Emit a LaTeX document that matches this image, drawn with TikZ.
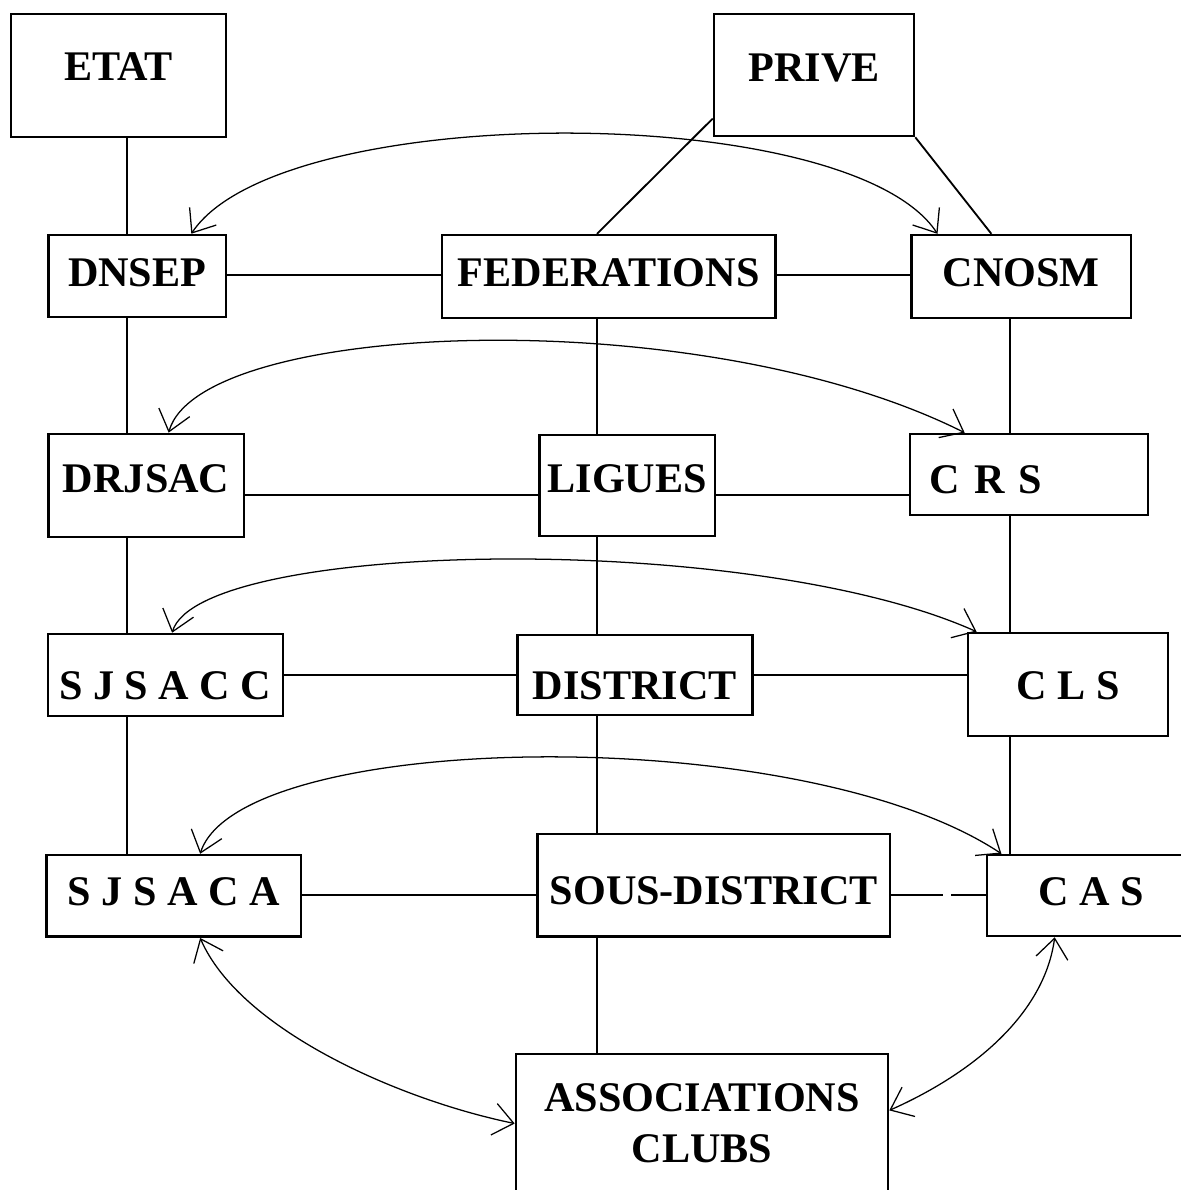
\documentclass[tikz,border=0pt]{standalone}
\usepackage{fontspec}
\setmainfont{Liberation Serif}
\usetikzlibrary{arrows.meta,calc}
\tikzset{
  box/.style={draw, line width=1.8pt, inner sep=0pt, font=\bfseries\fontsize{30}{36}\selectfont},
  wire/.style={line width=1.3pt},
  swing/.style={{Straight Barb[length=5mm,width=8mm]}-{Straight Barb[length=5mm,width=8mm]}, line width=0.9pt},
}
\begin{document}
\begin{tikzpicture}[x=0.025cm, y=-0.025cm]
  \useasboundingbox (0,0) rectangle (1181,1190);
  \node[box, minimum width=5.375cm, text height=1.65cm, text depth=1.425cm] (etat) at (118.5,75.5) {ETAT};
  \node[box, minimum width=5cm, text height=1.675cm, text depth=1.375cm] (prive) at (814,75) {PRIVE};
  \node[box, minimum width=4.43cm, text height=1.29cm, text depth=0.76cm] (dnsep) at (137.2,276) {DNSEP};
  \node[box, minimum width=8.34cm, text height=1.29cm, text depth=0.78cm] (federations) at (608.75,276.5) {FEDERATIONS};
  \node[box, minimum width=5.49cm, text height=1.29cm, text depth=0.78cm] (cnosm) at (1021.25,276.5) {CNOSM};
  \node[box, minimum width=4.88cm, text height=1.47cm, text depth=1.11cm] (drjsac) at (146.2,485.5) {DRJSAC};
  \node[box, minimum width=4.385cm, text height=1.44cm, text depth=1.08cm] (ligues) at (627.3,485.5) {LIGUES};
  \node[box, text width=4.95cm, inner xsep=0.5cm, align=left, text height=1.475cm, text depth=0.55cm] (crs) at (1029,474.5) {C R S};
  \node[box, minimum width=5.88cm, text height=1.63cm, text depth=0.42cm] (sjsacc) at (165.4,675) {S J S A C C};
  \node[box, minimum width=5.88cm, text height=1.61cm, text depth=0.39cm] (district) at (634.95,675) {DISTRICT};
  \node[box, minimum width=5cm, text height=1.65cm, text depth=0.925cm] (cls) at (1068,684.5) {C L S};
  \node[box, minimum width=6.36cm, text height=1.25cm, text depth=0.79cm] (sjsaca) at (173.85,895.85) {S J S A C A};
  \node[box, minimum width=8.81cm, text height=1.775cm, text depth=0.79cm] (sousdistrict) at (713.85,885.25) {SOUS-DISTRICT};
  \node[box, minimum width=5.2cm, text height=1.25cm, text depth=0.775cm] (cas) at (1091,895.5) {C A S};
  \node[box, minimum width=9.3cm, minimum height=3.475cm, align=center] (assoc) at (702,1123.5) {ASSOCIATIONS\\CLUBS};

  \coordinate (colA) at (127,0);
  \coordinate (colB) at (597,0);
  \coordinate (colC) at (1010,0);
  \coordinate (r1) at (0,275);
  \coordinate (r2) at (0,495);
  \coordinate (r3) at (0,675);
  \coordinate (r4) at (0,895);

  \begin{scope}[wire]
    \draw (etat.south -| colA) to (dnsep.north -| colA);
    \draw ($(prive.south west)!0.15!(prive.north west)$) to (federations.north -| colB);
    \draw (prive.south east) to (cnosm.125);
    \draw (dnsep.east |- r1) to (federations.west |- r1);
    \draw (federations.east |- r1) to (cnosm.west |- r1);
    \draw (dnsep.south -| colA) to (drjsac.north -| colA);
    \draw (federations.south -| colB) to (ligues.north -| colB);
    \draw (cnosm.south -| colC) to (crs.north -| colC);
    \draw (drjsac.east |- r2) to (ligues.west |- r2);
    \draw (ligues.east |- r2) to (crs.west |- r2);
    \draw (drjsac.south -| colA) to (sjsacc.north -| colA);
    \draw (ligues.south -| colB) to (district.north -| colB);
    \draw (crs.south -| colC) to (cls.north -| colC);
    \draw (sjsacc.east |- r3) to (district.west |- r3);
    \draw (district.east |- r3) to (cls.west |- r3);
    \draw (sjsacc.south -| colA) to (sjsaca.north -| colA);
    \draw (district.south -| colB) to (sousdistrict.north -| colB);
    \draw (cls.south -| colC) to (cas.north -| colC);
    \draw (sjsaca.east |- r4) to (sousdistrict.west |- r4);
    \draw[dash pattern=on 1.3cm off 0.2cm on 3cm off 0.1cm] (sousdistrict.east |- r4) to (cas.west |- r4);
    \draw (sousdistrict.south -| colB) to (assoc.north -| colB);
  \end{scope}

  \begin{scope}[swing]
    \draw (dnsep.38) .. controls (280,100) and (850,100) .. (cnosm.153);
    \draw (drjsac.67) .. controls (200,320) and (700,300) .. (crs.147);
    \draw (sjsacc.81) .. controls (200,540) and (750,530) .. (cls.150);
    \draw (sjsaca.58) .. controls (240,730) and (800,720) .. (cas.155);
    \draw (sjsaca.-58) .. controls (240,1030) and (400,1100) .. (assoc.west);
    \draw (cas.-131) .. controls (1045,1010) and (980,1070) .. (assoc.4);
  \end{scope}
\end{tikzpicture}
\end{document}
